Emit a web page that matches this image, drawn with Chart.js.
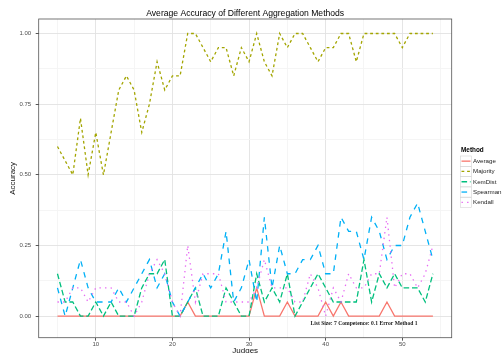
<!DOCTYPE html>
<html>
<head>
<meta charset="utf-8">
<script src="https://cdn.jsdelivr.net/npm/chart.js@4.4.0/dist/chart.umd.min.js"></script>
<style>
  html, body { margin: 0; padding: 0; background: #fff; }
  #wrap { width: 502px; height: 353px; position: relative; }
</style>
</head>
<body>
<div id="wrap"><canvas id="accuracyChart"></canvas></div>
<script>
const chartTitle = 'Average Accuracy of Different Aggregation Methods';
const note = 'List Size: 7 Competence: 0.1 Error Method 1';
const noteAt = [45, -0.025];

const judges = [5, 6, 7, 8, 9, 10, 11, 12, 13, 14, 15, 16, 17, 18, 19, 20, 21, 22, 23, 24,
  25, 26, 27, 28, 29, 30, 31, 32, 33, 34, 35, 36, 37, 38, 39, 40, 41, 42, 43, 44,
  45, 46, 47, 48, 49, 50, 51, 52, 53, 54];

const average = [0, 0, 0, 0, 0, 0, 0, 0, 0, 0, 0, 0, 0, 0, 0, 0, 0, 0.05, 0, 0,
  0, 0, 0, 0, 0, 0, 0.1, 0, 0, 0, 0.05, 0, 0, 0, 0, 0.05, 0, 0.05, 0, 0,
  0, 0, 0, 0.05, 0, 0, 0, 0, 0, 0];

const majority = [0.6, 0.55, 0.5, 0.7, 0.5, 0.65, 0.5, 0.65, 0.8, 0.85, 0.8, 0.65, 0.75, 0.9, 0.8, 0.85, 0.85, 1.0, 1.0, 0.95,
  0.9, 0.95, 0.95, 0.85, 0.95, 0.9, 1.0, 0.9, 0.85, 1.0, 0.95, 1.0, 1.0, 0.95, 0.9, 0.95, 0.95, 1.0, 1.0, 0.9,
  1.0, 1.0, 1.0, 1.0, 1.0, 0.95, 1.0, 1.0, 1.0, 1.0];

const kemDist = [0.15, 0.05, 0.05, 0, 0, 0.05, 0, 0.05, 0, 0, 0, 0.1, 0.15, 0.15, 0.2, 0, 0, 0.05, 0.1, 0,
  0, 0, 0.1, 0.05, 0, 0, 0.15, 0.05, 0.1, 0.05, 0.15, 0, 0.05, 0.1, 0.15, 0.1, 0.05, 0.05, 0.05, 0.05,
  0.2, 0.05, 0.15, 0.1, 0.15, 0.1, 0.1, 0.1, 0.05, 0.15];

const spearman = [0.1, 0, 0.1, 0.2, 0.1, 0.05, 0.05, 0.05, 0.1, 0.05, 0.1, 0.15, 0.2, 0.1, 0.15, 0.05, 0, 0.05, 0.1, 0.15,
  0.1, 0.15, 0.3, 0.05, 0.1, 0.2, 0.05, 0.35, 0.1, 0.25, 0.15, 0.15, 0.2, 0.2, 0.25, 0.15, 0.15, 0.35, 0.3, 0.3,
  0.2, 0.35, 0.3, 0.2, 0.25, 0.25, 0.35, 0.4, 0.3, 0.2];

const kendall = [0.05, 0.05, 0.1, 0.1, 0.05, 0.1, 0.1, 0.1, 0.05, 0.05, 0, 0.05, 0.15, 0.2, 0.15, 0.05, 0, 0.25, 0.05, 0.15,
  0.15, 0.15, 0.05, 0.05, 0.05, 0.05, 0.1, 0.2, 0.1, 0.1, 0.1, 0.05, 0.05, 0.15, 0.1, 0, 0.1, 0.05, 0.15, 0.1,
  0.1, 0.15, 0.15, 0.35, 0.1, 0.15, 0.15, 0.1, 0.15, 0.25];

const xMajor = [10, 20, 30, 40, 50];
const xMinor = [5, 15, 25, 35, 45, 55];
const yMajor = [0, 0.25, 0.5, 0.75, 1];
const yMinor = [0.125, 0.375, 0.625, 0.875];

// ggplot-ish look
const methods = [
  { label: 'Average',  values: average,  color: '#F8766D', dash: [] },
  { label: 'Majority', values: majority, color: '#A3A500', dash: [2.8, 2.8] },
  { label: 'KemDist',  values: kemDist,  color: '#00BF7D', dash: [5.6, 2.8] },
  { label: 'Spearman', values: spearman, color: '#00B0F6', dash: [5.6, 5.6] },
  { label: 'Kendall',  values: kendall,  color: '#E76BF3', dash: [1.4, 4.2] }
];

const datasets = methods.map((m, i) => ({
  label: m.label,
  data: judges.map((j, k) => ({ x: j, y: m.values[k] })),
  borderColor: m.color,
  backgroundColor: m.color,
  borderDash: m.dash,
  borderWidth: 1.3,
  pointRadius: 0,
  tension: 0,
  fill: false,
  order: methods.length - i
}));

const isMajor = (list, v) => list.some(t => Math.abs(t - v) < 1e-9);

const framePlugin = {
  id: 'frame',
  afterDatasetsDraw(chart) {
    const { ctx, chartArea: a, scales } = chart;
    ctx.save();
    // panel border
    ctx.strokeStyle = '#555';
    ctx.lineWidth = 0.8;
    ctx.strokeRect(a.left, a.top, a.right - a.left, a.bottom - a.top);

    // annotation
    ctx.fillStyle = '#222';
    ctx.font = 'bold 5.6px "Liberation Serif", "DejaVu Serif", serif';
    ctx.textAlign = 'center';
    ctx.textBaseline = 'middle';
    ctx.fillText(note, scales.x.getPixelForValue(noteAt[0]), scales.y.getPixelForValue(noteAt[1]));

    // title
    ctx.fillStyle = '#000';
    ctx.font = '8.6px "Liberation Sans", Arial, sans-serif';
    ctx.fillText(chartTitle, (a.left + a.right) / 2, 14);

    // legend
    const lx = 461, ly = 150.5;
    ctx.textAlign = 'left';
    ctx.font = 'bold 6.4px "Liberation Sans", Arial, sans-serif';
    ctx.fillText('Method', lx, ly);
    ctx.font = '6.2px "Liberation Sans", Arial, sans-serif';
    chart.data.datasets.forEach((ds, i) => {
      const top = 156 + i * 10.3;
      ctx.strokeStyle = '#d6d6d6';
      ctx.lineWidth = 0.6;
      ctx.setLineDash([]);
      ctx.strokeRect(lx - 0.5, top, 11, 10.3);
      ctx.strokeStyle = ds.borderColor;
      ctx.lineWidth = 1.3;
      ctx.setLineDash(ds.borderDash);
      ctx.beginPath();
      ctx.moveTo(lx + 0.5, top + 5.15);
      ctx.lineTo(lx + 9.5, top + 5.15);
      ctx.stroke();
      ctx.setLineDash([]);
      ctx.fillStyle = '#222';
      ctx.fillText(ds.label, lx + 12, top + 5.4);
    });
    ctx.restore();
  }
};

const gridColor = (list) => (c) => (c.tick && isMajor(list, c.tick.value)) ? '#e2e2e2' : '#f4f4f4';
const tickColor = (list) => (c) => (c.tick && isMajor(list, c.tick.value)) ? '#444' : 'rgba(0,0,0,0)';

new Chart(document.getElementById('accuracyChart').getContext('2d'), {
  type: 'line',
  data: { datasets: datasets },
  plugins: [framePlugin],
  options: {
    responsive: true,
    maintainAspectRatio: false,
    animation: false,
    layout: { padding: { top: 19, right: 50.3, left: 0, bottom: 0 } },
    plugins: {
      legend: { display: false },
      tooltip: { enabled: false }
    },
    scales: {
      x: {
        type: 'linear',
        min: 2.55,
        max: 56.45,
        afterBuildTicks: (s) => { s.ticks = xMinor.concat(xMajor).sort((a, b) => a - b).map(v => ({ value: v })); },
        afterFit: (s) => { s.height = 15.3; },
        border: { display: false },
        grid: { color: gridColor(xMajor), tickColor: tickColor(xMajor), tickLength: 3, lineWidth: 0.9 },
        ticks: {
          autoSkip: false,
          maxRotation: 0,
          padding: 0.5,
          color: '#4d4d4d',
          font: { size: 6, family: '"Liberation Sans", Arial, sans-serif' },
          callback: (v) => isMajor(xMajor, v) ? String(v) : ''
        },
        title: { display: true, text: 'Judges', color: '#111', padding: { top: 0, bottom: -3 }, font: { size: 8, family: '"Liberation Sans", Arial, sans-serif' } }
      },
      y: {
        min: -0.0763,
        max: 1.0513,
        afterBuildTicks: (s) => { s.ticks = yMajor.concat(yMinor).sort((a, b) => a - b).map(v => ({ value: v })); },
        afterFit: (s) => { s.width = 38.7; },
        border: { display: false },
        grid: { color: gridColor(yMajor), tickColor: tickColor(yMajor), tickLength: 3, lineWidth: 0.9 },
        ticks: {
          autoSkip: false,
          padding: 4.5,
          color: '#4d4d4d',
          font: { size: 6, family: '"Liberation Sans", Arial, sans-serif' },
          callback: (v) => isMajor(yMajor, v) ? v.toFixed(2) : ''
        },
        title: { display: true, text: 'Accuracy', color: '#111', padding: { top: 7.5, bottom: 0 }, font: { size: 8, family: '"Liberation Sans", Arial, sans-serif' } }
      }
    }
  }
});
</script>
</body>
</html>
